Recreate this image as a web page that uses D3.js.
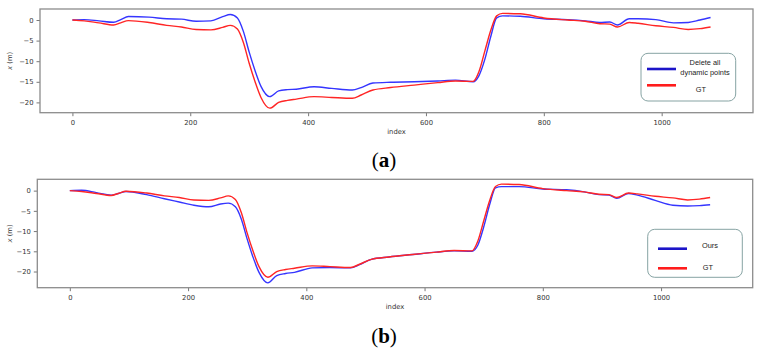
<!DOCTYPE html>
<html><head><meta charset="utf-8">
<script src="https://cdn.jsdelivr.net/npm/d3@7"></script>
<style>body{margin:0;background:#fff}svg{display:block}</style>
</head><body>
<svg id="c" width="762" height="352"></svg>
<script>
const idx = [0,20,45,70,82,95,130,160,185,210,235,255,268,280,290,300,310,320,335,350,365,380,410,440,475,490,510,540,580,620,650,680,690,700,710,720,730,760,800,840,870,895,912,925,945,960,990,1020,1045,1065,1083];
const gt = [0,-0.2,-0.7,-1.2,-0.7,-0.15,-0.6,-1.3,-1.7,-2.3,-2.4,-1.8,-1.3,-2.2,-5.4,-10.5,-15,-18.8,-21.4,-20.0,-19.5,-19.2,-18.6,-18.8,-19.0,-18.2,-17.0,-16.4,-15.8,-15.2,-14.8,-14.9,-12.5,-7.5,-2.5,1.0,1.6,1.5,0.5,0.0,-0.3,-0.9,-1.0,-1.7,-0.6,-0.8,-1.4,-1.8,-2.3,-2.1,-1.7];
const deleteAll = [0,0.1,-0.2,-0.55,0.1,0.85,0.7,0.3,0.2,-0.3,-0.2,0.8,1.35,0.5,-2.7,-7.8,-12.3,-16.1,-18.6,-17.2,-16.9,-16.8,-16.2,-16.6,-17.0,-16.4,-15.3,-15.1,-15.0,-14.8,-14.6,-15.0,-13.5,-9.5,-4,0.5,1.0,0.9,0.3,0.1,-0.2,-0.6,-0.5,-1.2,0.3,0.3,0.1,-0.7,-0.6,0.0,0.6];
const ours = [0,0.1,-0.5,-1.1,-0.7,-0.2,-1.0,-2.0,-2.8,-3.6,-4.0,-3.3,-3.1,-4.0,-7.0,-12,-16.5,-20.2,-22.8,-21.0,-20.5,-20.2,-19.1,-19.0,-19.1,-18.3,-17.0,-16.4,-15.8,-15.2,-14.9,-15.0,-13.5,-9,-3.5,0.7,1.0,1.0,0.4,0.2,-0.3,-1.0,-1.1,-1.9,-0.7,-1.1,-2.4,-3.6,-3.8,-3.7,-3.5];
const xTicks = [0,200,400,600,800,1000];
const yTicks = [0,-5,-10,-15,-20];
const panels = [
  {series: deleteAll, label: ["Delete all","dynamic points"], caption: "a"},
  {series: ours, label: ["Ours"], caption: "b"}
];

const svg = d3.select("#c");
const layout = [
  {x0:40, x1:753, y0:9, y1:112.7, yd:[-22.5,2.67], xlab:134, cap:167,
   lg:{x:641,y:53.3,w:94.7,h:47.7, bl:69, rl:85.3, lx0:647, lx1:676, tx:705, ty:[64.5,75], gtx:701, gty:92}},
  {x0:37.3, x1:752.7, y0:179.3, y1:287.7, yd:[-24,2.8], xlab:309, cap:343,
   lg:{x:647.7,y:229.3,w:94.6,h:48, bl:248.7, rl:268.3, lx0:658, lx1:687, tx:710, ty:[248], gtx:708, gty:269.5}}
];
const font = "DejaVu Sans, sans-serif";
panels.forEach((p,k)=>{
  const L = layout[k];
  const x = d3.scaleLinear().domain([-55,1155]).range([L.x0,L.x1]);
  const y = d3.scaleLinear().domain(L.yd).range([L.y1,L.y0]);
  const g = svg.append("g");
  const fmt = d => d3.format("d")(d).replace("-","\u2212");
  const xa = g.append("g").attr("transform",`translate(0,${L.y1})`)
    .call(d3.axisBottom(x).tickValues(xTicks).tickSize(3.5).tickPadding(4).tickFormat(fmt));
  const ya = g.append("g").attr("transform",`translate(${L.x0},0)`)
    .call(d3.axisLeft(y).tickValues(yTicks).tickSize(3.5).tickPadding(3).tickFormat(fmt));
  [xa,ya].forEach(a=>{
    a.select(".domain").remove();
    a.selectAll("line").attr("stroke","#555").attr("stroke-width",0.8);
    a.selectAll("text").attr("font-family",font).attr("font-size",6.8).attr("fill","#333");
  });
  const line = d3.line().x((d,i)=>x(idx[i])).y(d=>y(d)).curve(d3.curveMonotoneX);
  g.append("path").datum(p.series).attr("d",line).attr("fill","none").attr("stroke","#3535ff").attr("stroke-width",1.4);
  g.append("path").datum(gt).attr("d",line).attr("fill","none").attr("stroke","#ff2525").attr("stroke-width",1.4);
  g.append("rect").attr("x",L.x0).attr("y",L.y0).attr("width",L.x1-L.x0).attr("height",L.y1-L.y0)
    .attr("fill","none").attr("stroke","#8c8c8c").attr("stroke-width",1.3);
  g.append("text").attr("transform",`translate(12,${(L.y0+L.y1)/2}) rotate(-90)`).attr("text-anchor","middle")
    .attr("font-family",font).attr("font-size",6.8).attr("fill","#333")
    .html('<tspan font-style="italic">x</tspan> (m)');
  g.append("text").attr("x",(L.x0+L.x1)/2).attr("y",L.xlab).attr("text-anchor","middle")
    .attr("font-family",font).attr("font-size",6.8).attr("fill","#333").text("index");
  // legend
  const lg = L.lg;
  g.append("rect").attr("x",lg.x).attr("y",lg.y).attr("width",lg.w).attr("height",lg.h).attr("rx",7)
    .attr("fill","#fff").attr("stroke","#86a3a3").attr("stroke-width",1);
  g.append("line").attr("x1",lg.lx0).attr("x2",lg.lx1).attr("y1",lg.bl).attr("y2",lg.bl).attr("stroke","#1c14c8").attr("stroke-width",2.6);
  g.append("line").attr("x1",lg.lx0).attr("x2",lg.lx1).attr("y1",lg.rl).attr("y2",lg.rl).attr("stroke","#ff1c1c").attr("stroke-width",2.6);
  p.label.forEach((t,j)=>g.append("text").attr("x",lg.tx).attr("y",lg.ty[j]).attr("text-anchor","middle")
    .attr("font-family","Liberation Sans, Arial, sans-serif").attr("font-size",7.4).attr("fill","#222").text(t));
  g.append("text").attr("x",lg.gtx).attr("y",lg.gty).attr("text-anchor","middle")
    .attr("font-family","Liberation Sans, Arial, sans-serif").attr("font-size",7.4).attr("fill","#222").text("GT");
  g.append("text").attr("x",384).attr("y",L.cap).attr("text-anchor","middle")
    .attr("font-family","Liberation Serif, DejaVu Serif, serif").attr("font-size",21).attr("fill","#000")
    .html(`(<tspan font-weight="bold">${p.caption}</tspan>)`);
});
</script>
</body></html>
